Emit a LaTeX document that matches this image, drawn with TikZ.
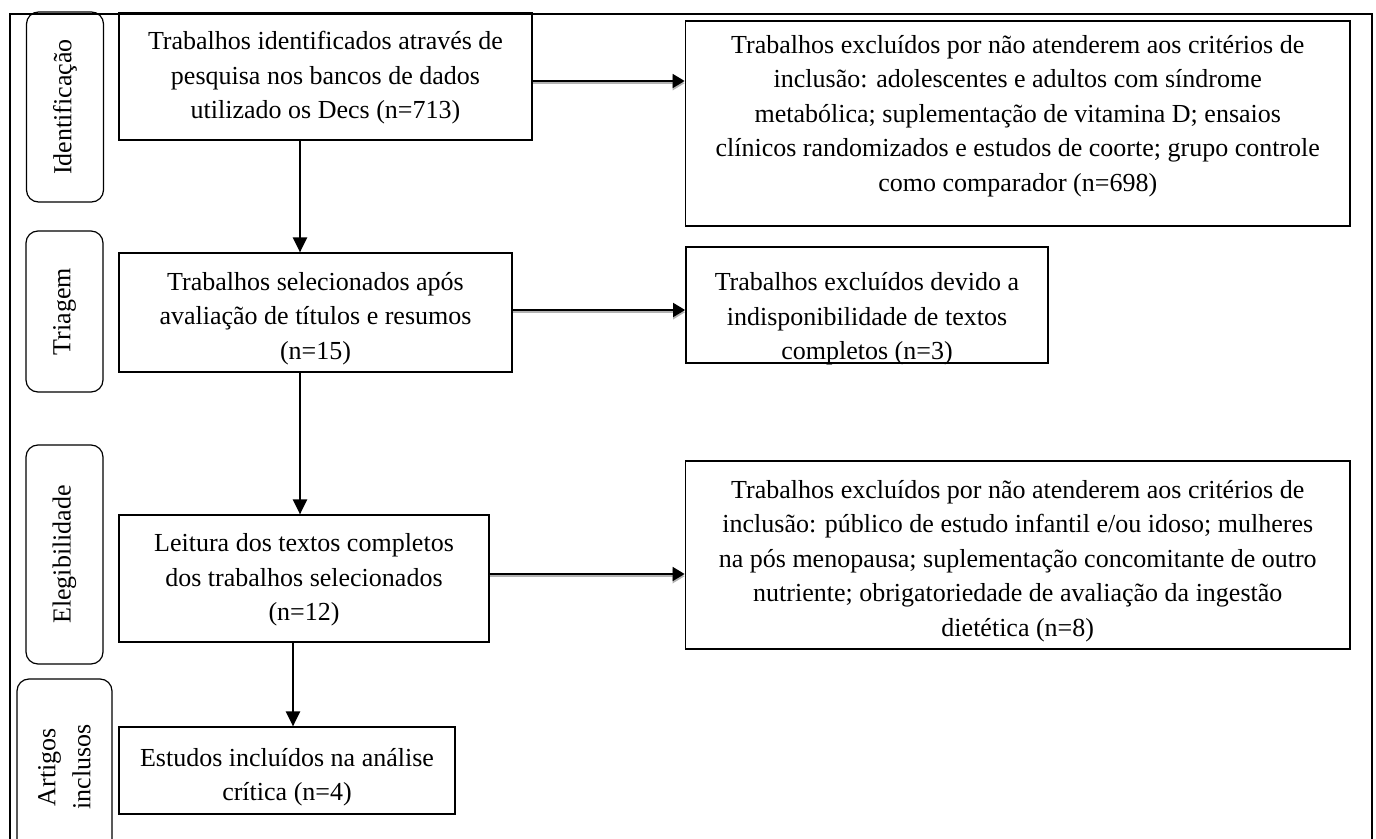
\documentclass[tikz,border=0pt]{standalone}
\usepackage{fontspec}
\setmainfont{Liberation Serif}
\usetikzlibrary{arrows.meta}
\newcommand{\prtext}[2]{\raisebox{#1}[0pt][0pt]{\begin{tabular}{@{}c@{}}#2\end{tabular}}}
\tikzset{
  prframe/.style={line width=0.6pt, draw=black},
  prbox/.style={draw=black, line width=0.6pt, inner sep=0pt, font=\fontsize{13}{17.25}\selectfont},
  prex/.style={prbox, line width=0.9pt},
  prlab/.style={draw=black, line width=0.6pt, rounded corners=6pt, rotate=90, align=center,
    minimum height=38.5pt, font=\fontsize{13}{17.5}\selectfont},
  prdown/.style={-{Triangle[length=7.5pt,width=7pt]}, line width=1.2pt},
  prright/.style={-{Triangle[length=6pt,width=7pt]}, line width=0.9pt,
    preaction={draw=black!30, line width=1.1pt, transform canvas={yshift=-1.1pt}}},
}

\begin{document}
\begin{tikzpicture}[x=0.5pt,y=-0.5pt]
\useasboundingbox (0,0) rectangle (1376,839);
\clip (0,0) rectangle (1376,839);
\draw[prframe] (10,845) -- (10,14) -- (1372,14) -- (1372,845);

% stage labels
\node[prlab, minimum width=95pt] (idlab) at (65,107) {Identificação};
\node[prlab, minimum width=80.5pt] (trlab) at (64.5,311.5) {Triagem};
\node[prlab, minimum width=109.5pt] (ellab) at (64.5,554.5) {Elegibilidade};
\node[prlab, minimum width=88pt, minimum height=47.5pt] (arlab) at (64.5,767) {Artigos\\inclusos};

% main column
\node[prbox, minimum width=206.5pt, minimum height=63.5pt] (ident) at (325.5,76.5)
  {\prtext{-3.5pt}{Trabalhos identificados através de\\pesquisa nos bancos de dados\\utilizado os Decs (n=713)}};
\node[prbox, minimum width=196.5pt, minimum height=59.5pt] (triag) at (315.5,312.5)
  {\prtext{-5.65pt}{Trabalhos selecionados após\\avaliação de títulos e resumos\\(n=15)}};
\node[prbox, minimum width=185pt, minimum height=63.5pt] (leit) at (304,578.5)
  {\prtext{-3.5pt}{Leitura dos textos completos\\dos trabalhos selecionados\\(n=12)}};
\node[prbox, minimum width=168pt, minimum height=43.5pt] (incl) at (287,770.5)
  {\prtext{-6pt}{Estudos incluídos na análise\\crítica (n=4)}};

% exclusions
\node[prex, minimum width=332.25pt, minimum height=102.5pt] (exA) at (1017.75,123.5)
  {\prtext{1pt}{Trabalhos excluídos por não atenderem aos critérios de\\inclusão: adolescentes e adultos com síndrome\\metabólica; suplementação de vitamina D; ensaios\\clínicos randomizados e estudos de coorte; grupo controle\\como comparador (n=698)}};
\node[prex, minimum width=181pt, minimum height=58pt] (exB) at (867,305)
  {\prtext{-9.75pt}{Trabalhos excluídos devido a\\indisponibilidade de textos\\completos (n=3)}};
\node[prex, minimum width=332.25pt, minimum height=94pt] (exC) at (1017.75,555)
  {\prtext{-5.75pt}{Trabalhos excluídos por não atenderem aos critérios de\\inclusão: público de estudo infantil e/ou idoso; mulheres\\na pós menopausa; suplementação concomitante de outro\\nutriente; obrigatoriedade de avaliação da ingestão\\dietética (n=8)}};

% connectors
\coordinate (d1) at ([xshift=-12.75pt]ident.south);
\coordinate (d2) at ([xshift=-7.75pt]triag.south);
\coordinate (d3) at ([xshift=-5.5pt]leit.south);
\coordinate (r1) at ([yshift=-2.25pt]ident.east);
\coordinate (r2) at ([yshift=1.25pt]triag.east);
\coordinate (r3) at ([yshift=2.25pt]leit.east);
\draw[prdown] (d1) -- (d1 |- triag.north);
\draw[prdown] (d2) -- (d2 |- leit.north);
\draw[prdown] (d3) -- (d3 |- incl.north);
\draw[prright] (r1) -- (r1 -| exA.west);
\draw[prright] (r2) -- (r2 -| exB.west);
\draw[prright] (r3) -- (r3 -| exC.west);
\end{tikzpicture}
\end{document}
